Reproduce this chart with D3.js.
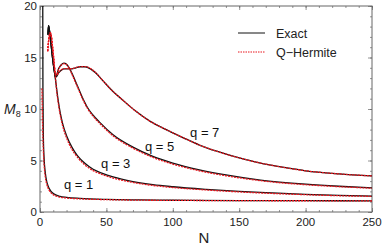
<!DOCTYPE html>
<html>
<head>
<meta charset="utf-8">
<script src="https://cdn.jsdelivr.net/npm/d3@7"></script>
<style>
  body { margin: 0; background: #fff; }
  svg { display: block; font-family: "Liberation Sans", Arial, sans-serif; }
</style>
</head>
<body>
<svg id="chart" width="382" height="247"></svg>
<script>
// q = 1
const q1ExactN = [2.05, 2.2, 2.5, 3, 4, 5, 6, 8, 10, 15, 20, 30, 50, 75, 100, 150, 200, 250];
const q1ExactM = [22, 12, 7.5, 5.4, 3.8, 3.0, 2.55, 2.05, 1.8, 1.52, 1.42, 1.32, 1.22, 1.17, 1.14, 1.11, 1.1, 1.08];
const q1HermN = [1.5, 1.8, 2.2, 2.6, 3, 4, 5, 6, 8, 10, 15, 20, 30, 50, 75, 100, 150, 200, 250];
const q1HermM = [12, 9.5, 7.2, 5.8, 4.8, 3.4, 2.75, 2.35, 1.9, 1.68, 1.45, 1.36, 1.28, 1.2, 1.15, 1.13, 1.1, 1.09, 1.07];

// q = 3
const q3ExactN = [6, 6.4, 7, 8, 9, 10, 11, 12.5, 13.5, 15, 17, 20, 24, 28, 34, 40, 47, 55, 70, 85, 100, 125, 150, 175, 200, 225, 250];
const q3ExactM = [17.2, 18.1, 17.7, 16.7, 15.5, 14.4, 13.5, 12.0, 11.0, 9.8, 8.6, 7.4, 6.3, 5.5, 4.7, 4.15, 3.75, 3.4, 2.95, 2.65, 2.45, 2.2, 2.0, 1.85, 1.72, 1.62, 1.55];
const q3HermN = [5.8, 6.3, 7, 7.8, 8.5, 9.3, 10.3, 11.3, 12.5, 13.5, 15, 17, 20, 24, 28, 34, 40, 47, 55, 70, 85, 100, 125, 150, 175, 200, 225, 250];
const q3HermM = [15.6, 16.4, 17.1, 17.4, 17.1, 16.2, 14.9, 13.6, 11.8, 10.8, 9.6, 8.4, 7.2, 6.1, 5.35, 4.55, 4.02, 3.63, 3.3, 2.87, 2.58, 2.38, 2.14, 1.95, 1.8, 1.68, 1.58, 1.52];

// q = 5
const q5ExactN = [6, 6.4, 7, 8, 9, 10, 11, 11.6, 12.5, 14, 16, 18, 20, 22, 25, 28, 32, 36, 40, 45, 55, 70, 85, 100, 120, 140, 166, 200, 225, 250];
const q5ExactM = [17.2, 18.1, 17.7, 16.7, 15.5, 14.4, 13.5, 13.1, 13.3, 13.9, 14.3, 14.45, 14.35, 14.0, 13.2, 12.3, 11.1, 10.1, 9.4, 8.7, 7.5, 6.3, 5.4, 4.75, 4.1, 3.6, 3.1, 2.7, 2.5, 2.35];
const q5HermN = [5.8, 6.3, 7, 7.8, 8.5, 9.3, 10.3, 11.3, 12, 12.8, 14, 16, 18, 20, 22, 25, 28, 32, 36, 40, 45, 55, 70, 85, 100, 120, 140, 166, 200, 225, 250];
const q5HermM = [15.6, 16.4, 17.1, 17.4, 17.1, 16.2, 14.9, 13.6, 13.3, 13.4, 13.85, 14.25, 14.4, 14.3, 13.95, 13.1, 12.2, 11.0, 10.0, 9.3, 8.6, 7.4, 6.2, 5.3, 4.65, 4.0, 3.52, 3.04, 2.65, 2.46, 2.31];

// q = 7
const q7ExactN = [6, 6.4, 7, 8, 9, 10, 11, 11.6, 12.5, 14, 16, 18, 21, 24, 27, 30, 34, 38, 42, 47, 55, 62, 72, 83, 95, 108, 120, 133, 150, 166, 185, 200, 225, 250];
const q7ExactM = [17.2, 18.1, 17.7, 16.7, 15.5, 14.4, 13.5, 13.1, 13.15, 13.5, 13.75, 13.9, 13.9, 13.9, 14.0, 14.1, 14.1, 13.9, 13.5, 12.8, 11.7, 10.9, 9.8, 8.8, 8.0, 7.2, 6.5, 5.9, 5.25, 4.75, 4.3, 4.0, 3.7, 3.5];
const q7HermN = [5.8, 6.3, 7, 7.8, 8.5, 9.3, 10.3, 11.3, 12, 12.8, 14, 16, 18, 21, 24, 27, 30, 34, 38, 42, 47, 55, 62, 72, 83, 95, 108, 120, 133, 150, 166, 185, 200, 225, 250];
const q7HermM = [15.6, 16.4, 17.1, 17.4, 17.1, 16.2, 14.9, 13.6, 13.3, 13.3, 13.55, 13.8, 13.92, 13.92, 13.92, 14.02, 14.12, 14.12, 13.92, 13.52, 12.8, 11.7, 10.9, 9.8, 8.8, 8.0, 7.2, 6.5, 5.9, 5.25, 4.75, 4.3, 4.0, 3.7, 3.5];

const xTicks = [0, 50, 100, 150, 200, 250];
const yTicks = [0, 5, 10, 15, 20];
const legendLabels = ["Exact", "Q\u2212Hermite"];
const curveLabels = [
  { text: "q = 1", N: 18, M: 2.2 },
  { text: "q = 3", N: 46, M: 4.3 },
  { text: "q = 5", N: 79, M: 5.9 },
  { text: "q = 7", N: 113, M: 7.3 }
];

const W = 382, H = 247;
const margin = { left: 40, top: 6, right: 10, bottom: 35 };
const iw = W - margin.left - margin.right;
const ih = H - margin.top - margin.bottom;

const x = d3.scaleLinear().domain([0, 250]).range([0, iw]);
const y = d3.scaleLinear().domain([0, 20]).range([ih, 0]);

const svg = d3.select("#chart");
const g = svg.append("g").attr("transform", `translate(${margin.left},${margin.top})`);

g.append("clipPath").attr("id", "clip")
  .append("rect").attr("width", iw).attr("height", ih);

const frameColor = "#666";

// ticks on all four sides, pointing inward
function ticks(axisFn, scale, major, minor, tr) {
  const a = g.append("g").attr("transform", tr);
  a.call(axisFn(scale).tickValues(minor).tickSize(2).tickFormat(""));
  a.append("g").call(axisFn(scale).tickValues(major).tickSize(4).tickFormat(""));
  a.selectAll(".domain").remove();
  a.selectAll("line").attr("stroke", frameColor).attr("stroke-width", 0.7);
  return a;
}
const xMinor = d3.range(0, 251, 10);
const yMinor = d3.range(0, 20.1, 1);
ticks(d3.axisTop, x, xTicks, xMinor, `translate(0,${ih})`);
ticks(d3.axisBottom, x, xTicks, xMinor, "translate(0,0)");
ticks(d3.axisRight, y, yTicks, yMinor, "translate(0,0)");
ticks(d3.axisLeft, y, yTicks, yMinor, `translate(${iw},0)`);

// frame
g.append("rect").attr("width", iw).attr("height", ih)
  .attr("fill", "none").attr("stroke", frameColor).attr("stroke-width", 1);

// tick labels
g.selectAll(".xl").data(xTicks).join("text")
  .attr("x", d => x(d)).attr("y", ih + 14)
  .attr("text-anchor", "middle").attr("font-size", 11.5).attr("fill", "#222")
  .text(d => d);
g.selectAll(".yl").data(yTicks).join("text")
  .attr("x", -3).attr("y", d => y(d) + 4)
  .attr("text-anchor", "end").attr("font-size", 11.5).attr("fill", "#222")
  .text(d => d);

// axis titles
svg.append("text").attr("x", 204).attr("y", 243)
  .attr("text-anchor", "middle").attr("font-size", 15).attr("fill", "#222").text("N");
const my = svg.append("text").attr("x", 4).attr("y", 114).attr("fill", "#222");
my.append("tspan").attr("font-size", 14).attr("font-style", "italic").text("M");
my.append("tspan").attr("font-size", 9).attr("dy", 3).text("8");

// curves
const line = d3.line()
  .x(d => x(d[0])).y(d => y(d[1]))
  .curve(d3.curveMonotoneX);

const exact = [[q1ExactN, q1ExactM], [q3ExactN, q3ExactM], [q5ExactN, q5ExactM], [q7ExactN, q7ExactM]];
const herm = [[q1HermN, q1HermM], [q3HermN, q3HermM], [q5HermN, q5HermM], [q7HermN, q7HermM]];
const toPts = ([ns, ms]) => ns.map((n, i) => [n, ms[i]]);

const plot = g.append("g").attr("clip-path", "url(#clip)");
plot.selectAll(".ex").data(exact.map(toPts)).join("path")
  .attr("d", line).attr("fill", "none")
  .attr("stroke", "#111").attr("stroke-width", 1.3);
plot.selectAll(".hm").data(herm.map(toPts)).join("path")
  .attr("d", line).attr("fill", "none")
  .attr("stroke", "#e8141c").attr("stroke-width", 1.3)
  .attr("stroke-dasharray", "2,1");

// curve labels
g.selectAll(".ql").data(curveLabels).join("text")
  .attr("x", d => x(d.N)).attr("y", d => y(d.M))
  .attr("font-size", 13).attr("fill", "#111")
  .text(d => d.text);

// legend
const leg = svg.append("g");
const legY = [33, 52];
leg.append("line").attr("x1", 238).attr("x2", 265).attr("y1", legY[0]).attr("y2", legY[0])
  .attr("stroke", "#111").attr("stroke-width", 1);
leg.append("line").attr("x1", 238).attr("x2", 265).attr("y1", legY[1]).attr("y2", legY[1])
  .attr("stroke", "#e8141c").attr("stroke-width", 1).attr("stroke-dasharray", "1.5,1");
leg.selectAll("text").data(legendLabels).join("text")
  .attr("x", 276).attr("y", (d, i) => legY[i] + 4.5)
  .attr("font-size", 12.5).attr("fill", "#222")
  .text(d => d);
</script>
</body>
</html>
